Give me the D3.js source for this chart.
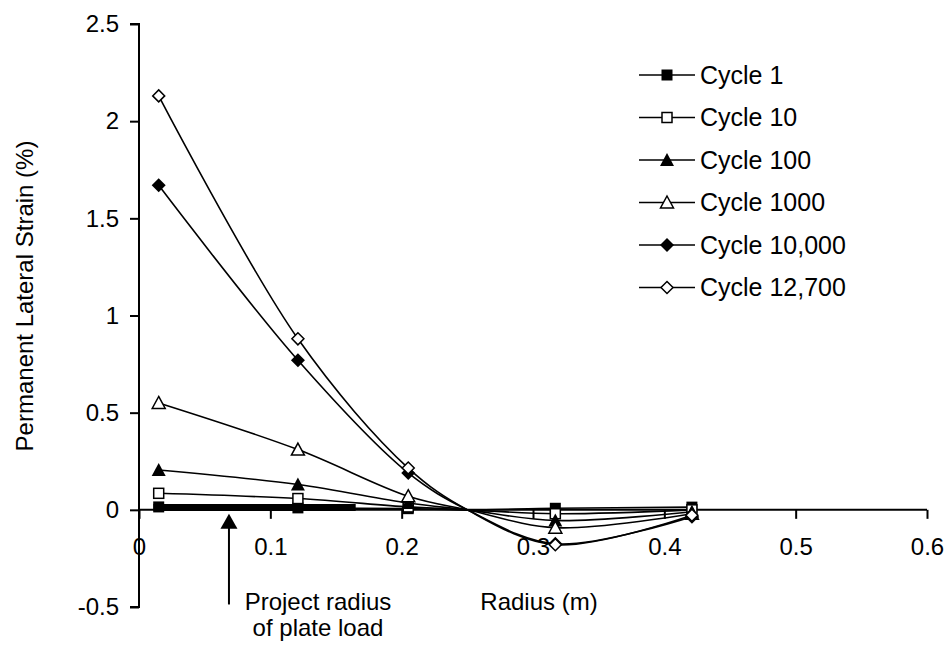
<!DOCTYPE html>
<html>
<head>
<meta charset="utf-8">
<script src="https://cdn.jsdelivr.net/npm/d3@7"></script>
<style>
  html, body { margin: 0; padding: 0; background: #fff; }
  svg { display: block; }
  text { font-family: "Liberation Sans", Arial, sans-serif; fill: #000; }
</style>
</head>
<body>
<svg id="chart" width="948" height="646"></svg>
<script>
// ---------------- data ----------------
const radii = [0.015, 0.121, 0.205, 0.25, 0.317, 0.421];
const markerShown = [true, true, true, false, true, true];
const seriesNames = ["Cycle 1", "Cycle 10", "Cycle 100", "Cycle 1000", "Cycle 10,000", "Cycle 12,700"];
const cycle1     = [0.015, 0.010, 0.006, 0, 0.008, 0.014];
const cycle10    = [0.085, 0.058, 0.015, 0, -0.020, 0.000];
const cycle100   = [0.205, 0.130, 0.035, 0, -0.055, -0.010];
const cycle1000  = [0.550, 0.310, 0.070, 0, -0.092, -0.020];
const cycle10000 = [1.670, 0.770, 0.190, 0, -0.175, -0.035];
const cycle12700 = [2.130, 0.880, 0.215, 0, -0.180, -0.028];
const seriesValues = [cycle1, cycle10, cycle100, cycle1000, cycle10000, cycle12700];
const markerTypes = ["squareFilled", "squareOpen", "triangleFilled", "triangleOpen", "diamondFilled", "diamondOpen"];
const xTicks = [0, 0.1, 0.2, 0.3, 0.4, 0.5, 0.6];
const yTicks = [-0.5, 0, 0.5, 1, 1.5, 2, 2.5];
const plateBar = [0.011, 0.165];      // radius extent of the plate bar
const plateBarLevel = 0.012;
const arrowRadius = 0.0685;
const arrowRange = [-0.487, -0.02];
const xTitle = "Radius (m)";
const yTitle = "Permanent Lateral Strain (%)";
const noteLines = ["Project radius", "of plate load"];

// ---------------- layout ----------------
const svg = d3.select("#chart");
const x = d3.scaleLinear().domain([0, 0.6]).range([139, 927]);
const y = d3.scaleLinear().domain([-0.5, 2.5]).range([607, 24]);
const FS = 24;
const fmt = d => String(d);

// axes
const yAxis = d3.axisLeft(y).tickValues(yTicks).tickSize(9).tickPadding(11).tickFormat(fmt);
const gy = svg.append("g").attr("transform", `translate(${x(0)},0)`).call(yAxis);
gy.select(".domain").attr("stroke", "#000").attr("stroke-width", 2).attr("d", `M-9,${y(2.5)}H0V${y(-0.5)}H-9`);
gy.selectAll(".tick line").attr("stroke", "#000").attr("stroke-width", 2);
gy.selectAll(".tick text").attr("font-size", FS).attr("font-family", "Liberation Sans, Arial, sans-serif");

const xAxis = d3.axisBottom(x).tickValues(xTicks).tickSize(9).tickPadding(0).tickFormat(fmt);
const gx = svg.append("g").attr("transform", `translate(0,${y(0)})`).call(xAxis);
gx.select(".domain").attr("stroke", "#000").attr("stroke-width", 2).attr("d", `M${x(0)},0H${x(0.6)}`);
gx.selectAll(".tick line").attr("stroke", "#000").attr("stroke-width", 2);
gx.selectAll(".tick text").attr("font-size", FS).attr("font-family", "Liberation Sans, Arial, sans-serif")
  .attr("dy", null).attr("y", 45);
svg.selectAll(".tick text").attr("fill", "#000");

// titles
svg.append("text").attr("x", 539).attr("y", 610).attr("text-anchor", "middle")
  .attr("font-size", FS).text(xTitle);
svg.append("text").attr("transform", `translate(33,296) rotate(-90)`).attr("text-anchor", "middle")
  .attr("font-size", FS).text(yTitle);

// plate bar
svg.append("line")
  .attr("x1", x(plateBar[0])).attr("x2", x(plateBar[1]))
  .attr("y1", y(plateBarLevel)).attr("y2", y(plateBarLevel))
  .attr("stroke", "#000").attr("stroke-width", 7);

// arrow annotation
svg.append("line").attr("x1", x(arrowRadius)).attr("x2", x(arrowRadius))
  .attr("y1", y(arrowRange[0])).attr("y2", y(arrowRange[1]) + 12)
  .attr("stroke", "#000").attr("stroke-width", 2);
svg.append("path")
  .attr("d", `M${x(arrowRadius)},${y(arrowRange[1])}l-8.5,15h17z`)
  .attr("fill", "#000");
noteLines.forEach((t, i) => {
  svg.append("text").attr("x", 318).attr("y", 610 + i * 26).attr("text-anchor", "middle")
    .attr("font-size", FS).text(t);
});

// markers
function drawMarker(g, type, cx, cy) {
  if (type === "squareFilled") {
    g.append("rect").attr("x", cx - 5.5).attr("y", cy - 5.5).attr("width", 11).attr("height", 11).attr("fill", "#000");
  } else if (type === "squareOpen") {
    g.append("rect").attr("x", cx - 5).attr("y", cy - 5).attr("width", 10).attr("height", 10)
      .attr("fill", "#fff").attr("stroke", "#000").attr("stroke-width", 1.5);
  } else if (type === "triangleFilled") {
    g.append("path").attr("d", `M${cx},${cy - 7}L${cx + 7},${cy + 6}L${cx - 7},${cy + 6}Z`).attr("fill", "#000");
  } else if (type === "triangleOpen") {
    g.append("path").attr("d", `M${cx},${cy - 6.5}L${cx + 6.5},${cy + 5.5}L${cx - 6.5},${cy + 5.5}Z`)
      .attr("fill", "#fff").attr("stroke", "#000").attr("stroke-width", 1.5);
  } else if (type === "diamondFilled") {
    g.append("path").attr("d", `M${cx},${cy - 7}L${cx + 7},${cy}L${cx},${cy + 7}L${cx - 7},${cy}Z`).attr("fill", "#000");
  } else if (type === "diamondOpen") {
    g.append("path").attr("d", `M${cx},${cy - 6}L${cx + 6},${cy}L${cx},${cy + 6}L${cx - 6},${cy}Z`)
      .attr("fill", "#fff").attr("stroke", "#000").attr("stroke-width", 1.5);
  }
}

const line = d3.line().x(d => x(d[0])).y(d => y(d[1])).curve(d3.curveCatmullRom.alpha(0.5));

seriesValues.forEach((vals, si) => {
  const g = svg.append("g").attr("class", "series");
  const pts = radii.map((r, i) => [r, vals[i]]);
  g.append("path").attr("d", line(pts)).attr("fill", "none")
    .attr("stroke", "#000").attr("stroke-width", 1.6);
  pts.forEach((p, i) => {
    if (markerShown[i]) drawMarker(g, markerTypes[si], x(p[0]), y(p[1]));
  });
});

// legend
const legend = svg.append("g");
seriesNames.forEach((name, i) => {
  const ly = 75 + i * 42.5;
  legend.append("line").attr("x1", 639).attr("x2", 695).attr("y1", ly).attr("y2", ly)
    .attr("stroke", "#000").attr("stroke-width", 1.6);
  drawMarker(legend, markerTypes[i], 667, ly);
  legend.append("text").attr("x", 700).attr("y", ly).attr("dy", "0.35em")
    .attr("font-size", 25).text(name);
});
</script>
</body>
</html>
